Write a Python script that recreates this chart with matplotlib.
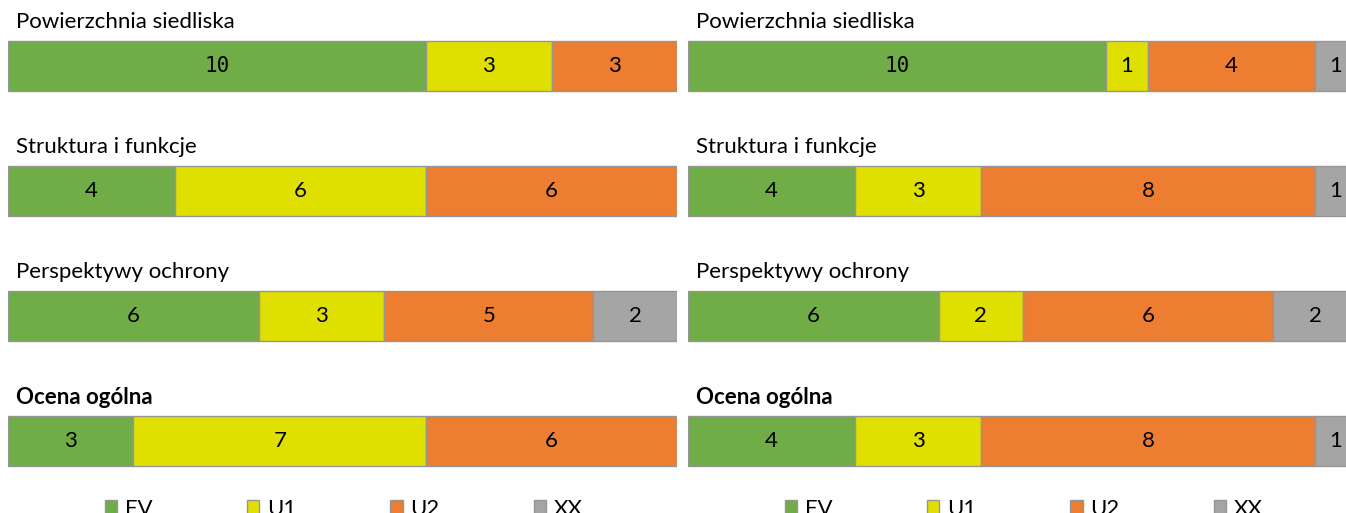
import matplotlib.pyplot as plt
import numpy as np

plt.rcParams['font.family'] = ['Lato', 'DejaVu Sans']

categories = ['FV', 'U1', 'U2', 'XX']
colors = ['#70AD47', '#DFDF00', '#ED7D31', '#A5A5A5']
rows = ['Powierzchnia siedliska', 'Struktura i funkcje', 'Perspektywy ochrony', 'Ocena ogólna']

left_values = np.array([
    [10, 3, 3, 0],
    [4, 6, 6, 0],
    [6, 3, 5, 2],
    [3, 7, 6, 0],
])
right_values = np.array([
    [10, 1, 4, 1],
    [4, 3, 8, 1],
    [6, 2, 6, 2],
    [4, 3, 8, 1],
])

W, H = 1346, 513
fig = plt.figure(figsize=(W / 100, H / 100), dpi=100)


def panel(x0, values):
    # axes in pixel-like units vertically, one unit per count horizontally
    ax = fig.add_axes([x0 / W, 0, 669 / W, 1])
    ax.set_xlim(0, 16)
    ax.set_ylim(H, 0)
    ax.axis('off')
    centers = 66 + 125 * np.arange(len(rows))
    left = np.zeros(len(rows))
    handles = []
    for j, cat in enumerate(categories):
        vals = values[:, j]
        b = ax.barh(centers, vals, left=left, height=50, color=colors[j],
                    edgecolor='#969696', linewidth=1, label=cat)
        handles.append(b)
        for c, l, v in zip(centers, left, vals):
            if v > 0:
                fam = ['DejaVu Sans Mono'] if v >= 10 else None
                ax.text(l + v / 2, c, str(v), ha='center', va='center',
                        fontsize=16 if v < 10 else 15, color='black', family=fam)
        left = left + vals
    for i, (c, name) in enumerate(zip(centers, rows)):
        ax.text(0.2, c - 44, name, ha='left', va='center', fontsize=16,
                fontweight='bold' if i == len(rows) - 1 else 'normal')
    ax.legend(handles=handles, labels=categories, loc='center',
              bbox_to_anchor=(0.502, 0.008), ncol=4, frameon=False,
              fontsize=16, handlelength=0.55, handleheight=0.55,
              handletextpad=0.35, columnspacing=4.25)
    return ax


panel(8, left_values)
panel(688, right_values)

fig.savefig('out.png', dpi=100)
